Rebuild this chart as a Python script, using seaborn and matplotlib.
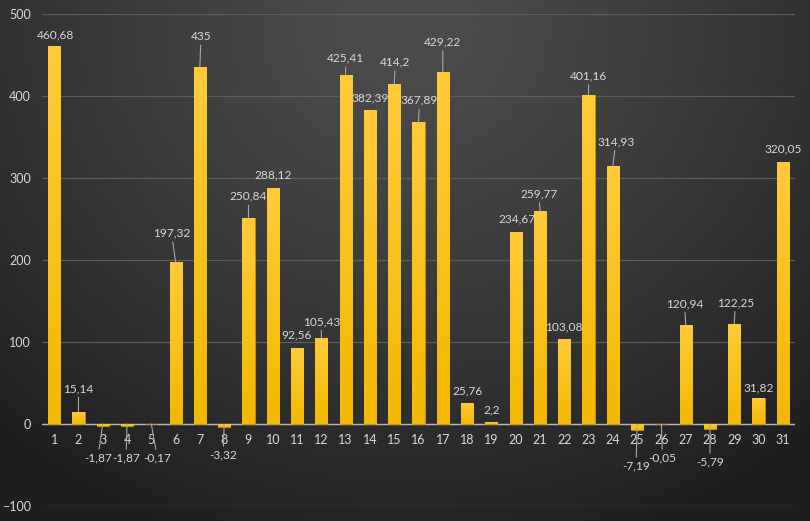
import numpy as np
import pandas as pd
import matplotlib
matplotlib.use("Agg")
import matplotlib.pyplot as plt
import seaborn as sns
from matplotlib.colors import LinearSegmentedColormap

# dados
categorias = [str(i) for i in range(1, 32)]
valores = [460.68, 15.14, -1.87, -1.87, -0.17, 197.32, 435, -3.32, 250.84, 288.12,
           92.56, 105.43, 425.41, 382.39, 414.2, 367.89, 429.22, 25.76, 2.2, 234.67,
           259.77, 103.08, 401.16, 314.93, -7.19, -0.05, 120.94, -5.79, 122.25, 31.82,
           320.05]
yticks = [-100, 0, 100, 200, 300, 400, 500]

# deslocamento dos rótulos (pixels) em relação ao topo da barra
desloc_rotulos = [(1, 11), (0, 23), (-5, -34), (-1, -34), (6, -34), (-4, 29), (1, 31),
                  (-1, -31), (0, 22), (0, 13), (0, 13), (0, 16), (0, 17), (0, 13),
                  (1, 22), (1, 22), (0, 30), (0, 12), (0, 12), (1, 13), (-1, 17),
                  (0, 13), (0, 19), (3, 24), (-1, -42), (1, -34), (-1, 21), (0, -38),
                  (1, 21), (0, 10), (0, 13)]

COR_TEXTO = "#d9d9d9"
COR_GRADE = "#5c5c5c"
COR_LINHA = "#a8a8a8"

sns.set_theme(style="dark")
plt.rcParams["font.family"] = ["Lato", "DejaVu Sans"]

W, H = 810, 521
fig = plt.figure(figsize=(W / 100, H / 100), dpi=100)

# fundo com gradiente radial
fundo = fig.add_axes([0, 0, 1, 1])
fundo.set_axis_off()
yy, xx = np.mgrid[0:H, 0:W]
r = np.sqrt(((xx / W - 0.5) / 0.75) ** 2 + ((yy / H - 0.05) / 1.05) ** 2)
r = np.clip(r, 0, 1)
nivel = 0x4c - (0x4c - 0x1e) * r ** 1.3
img = np.dstack([nivel, nivel, nivel]) / 255.0
fundo.imshow(img, aspect="auto", extent=[0, 1, 0, 1], zorder=0)
fundo.set_xlim(0, 1)
fundo.set_ylim(0, 1)

ax = fig.add_axes([42 / W, 1 - 506 / H, (795 - 42) / W, (506 - 14) / H])
ax.set_facecolor("none")

df = pd.DataFrame({"Categoria": categorias, "Valor": valores})
sns.barplot(data=df, x="Categoria", y="Valor", color="#FFC000", width=0.5,
            edgecolor="#c89400", linewidth=0.6, saturation=1, ax=ax, zorder=3)

# gradiente nas barras
cmap_barra = LinearSegmentedColormap.from_list("ouro", ["#f3b800", "#ffcb3a"])
grad = np.linspace(0, 1, 256).reshape(-1, 1)
for p in ax.patches:
    x0, y0 = p.get_x(), p.get_y()
    w, h = p.get_width(), p.get_height()
    y_min, y_max = min(y0, y0 + h), max(y0, y0 + h)
    im = ax.imshow(grad, cmap=cmap_barra, aspect="auto", origin="lower",
                   extent=[x0, x0 + w, y_min, y_max], zorder=3.5)
    im.set_clip_path(p)

ax.set_xlim(-0.5, len(categorias) - 0.5)
ax.set_ylim(-100, 500)
ax.set_yticks(yticks)
ax.yaxis.grid(True, color=COR_GRADE, linewidth=0.9)
ax.xaxis.grid(False)
ax.set_axisbelow(True)
ax.axhline(0, color="#b5b5b5", linewidth=1.0, zorder=2)

for lado in ["top", "right", "left", "bottom"]:
    ax.spines[lado].set_visible(False)
ax.spines["bottom"].set_position(("data", 0))

ax.tick_params(axis="both", length=0, colors=COR_TEXTO, labelsize=9)
ax.tick_params(axis="y", pad=8)
ax.tick_params(axis="x", pad=7)
ax.set_xlabel("")
ax.set_ylabel("")

# rótulos de dados com linhas de chamada
for i, (v, (dx, dy)) in enumerate(zip(valores, desloc_rotulos)):
    texto = f"{v:g}".replace(".", ",")
    base = v if v > 0 else 0
    props = None
    if abs(dy) >= 15:
        props = dict(arrowstyle="-", color=COR_LINHA, lw=0.8, shrinkA=0, shrinkB=0)
    ax.annotate(texto, xy=(i, base), xytext=(dx, dy), textcoords="offset pixels",
                ha="center", va="center", fontsize=8.6, color=COR_TEXTO,
                arrowprops=props, zorder=5, annotation_clip=False)

fig.savefig("out.png", dpi=100)
